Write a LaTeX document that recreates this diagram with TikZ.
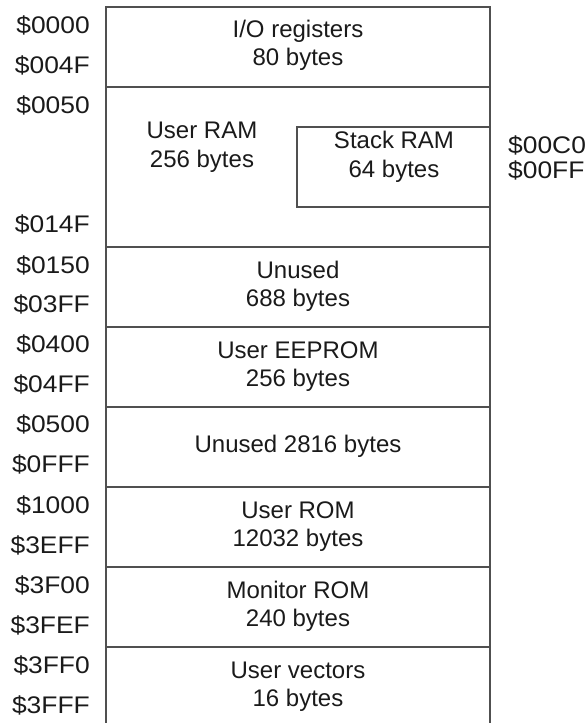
\documentclass[tikz,border=0pt]{standalone}
\usepackage{fontspec}
\usepackage{graphicx}
\setmainfont{Liberation Sans}
\definecolor{linegray}{HTML}{505050}
\definecolor{txt}{HTML}{1A1A1A}
\newcommand{\addrtxt}[1]{\scalebox{1.1}[1]{#1}}
\begin{document}
\begin{tikzpicture}[x=1pt,y=-1pt,
  mline/.style={draw=linegray,line width=1.6pt},
  lbl/.style={inner sep=0pt,text=txt,font=\fontsize{24}{28}\selectfont},
  ctext/.style={lbl,anchor=base},
  laddr/.style={lbl,anchor=base east},
  raddr/.style={lbl,anchor=base west}]
\useasboundingbox (0,0) rectangle (587,723);
% outer frame (open at bottom)
\draw[mline] (106,723) -- (106,7) -- (490,7) -- (490,723);
\foreach \y in {87,247,327,407,487,567,647}
  \draw[mline] (106,\y) -- (490,\y);
% stack box
\node[mline,inner sep=0pt,minimum width=193pt,minimum height=80pt] (stack) at (393.5,167) {};
% block texts
\node[ctext] (io1) at (298,37.5) {I/O registers};
\node[ctext] (io2) at (298,65.5) {80 bytes};
\node[ctext] (ur1) at (202,138) {User RAM};
\node[ctext] (ur2) at (202,167) {256 bytes};
\node[ctext] (sr1) at (394,148) {Stack RAM};
\node[ctext] (sr2) at (394,177) {64 bytes};
\node[ctext] (un1) at (298,278) {Unused};
\node[ctext] (un2) at (298,306) {688 bytes};
\node[ctext] (ee1) at (298,358) {User EEPROM};
\node[ctext] (ee2) at (298,386) {256 bytes};
\node[ctext] (uu1) at (298,452) {Unused 2816 bytes};
\node[ctext] (ro1) at (298,518) {User ROM};
\node[ctext] (ro2) at (298,546) {12032 bytes};
\node[ctext] (mo1) at (298,598) {Monitor ROM};
\node[ctext] (mo2) at (298,626) {240 bytes};
\node[ctext] (uv1) at (298,678) {User vectors};
\node[ctext] (uv2) at (298,706) {16 bytes};
% left addresses
\node[laddr] (a1) at (90,33) {\addrtxt{\$0000}};
\node[laddr] (a2) at (90,73) {\addrtxt{\$004F}};
\node[laddr] (a3) at (90,113) {\addrtxt{\$0050}};
\node[laddr] (a4) at (90,232) {\addrtxt{\$014F}};
\node[laddr] (a5) at (90,273) {\addrtxt{\$0150}};
\node[laddr] (a6) at (90,312) {\addrtxt{\$03FF}};
\node[laddr] (a7) at (90,352) {\addrtxt{\$0400}};
\node[laddr] (a8) at (90,392) {\addrtxt{\$04FF}};
\node[laddr] (a9) at (90,432) {\addrtxt{\$0500}};
\node[laddr] (a10) at (90,472) {\addrtxt{\$0FFF}};
\node[laddr] (a11) at (90,513) {\addrtxt{\$1000}};
\node[laddr] (a12) at (90,553) {\addrtxt{\$3EFF}};
\node[laddr] (a13) at (90,593) {\addrtxt{\$3F00}};
\node[laddr] (a14) at (90,633) {\addrtxt{\$3FEF}};
\node[laddr] (a15) at (90,673) {\addrtxt{\$3FF0}};
\node[laddr] (a16) at (90,713) {\addrtxt{\$3FFF}};
% right addresses
\node[raddr] (r1) at (508,153) {\addrtxt{\$00C0}};
\node[raddr] (r2) at (508,178) {\addrtxt{\$00FF}};
\end{tikzpicture}
\end{document}
